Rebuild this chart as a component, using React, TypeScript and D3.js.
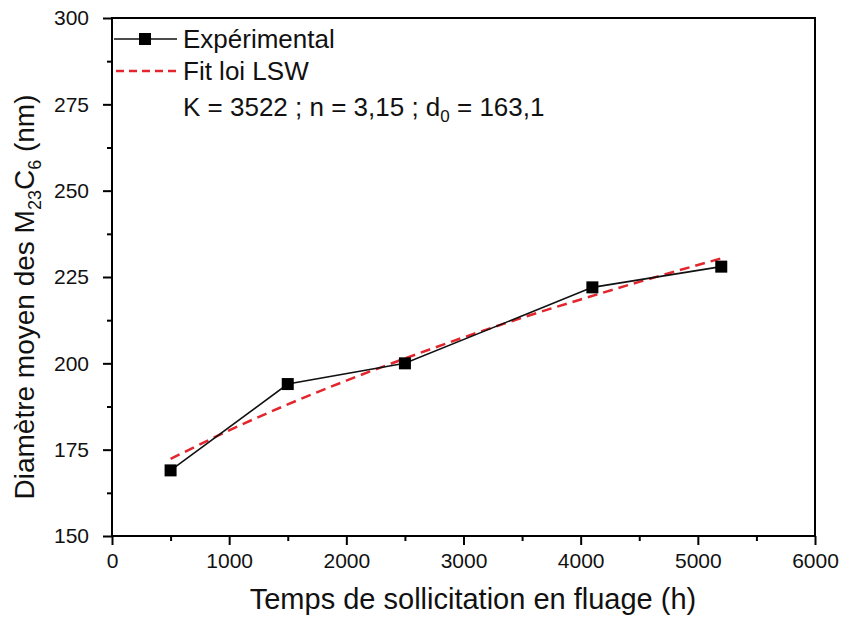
import * as React from 'react';
import * as d3 from 'd3';

const width = 842;
const height = 621;
const margins = { top: 18, right: 27, bottom: 85, left: 112 };

// données
const timeValues = [500, 1500, 2500, 4100, 5200];
const diameterValues = [169, 194, 200, 222, 228];
const fitTimes = [500, 1000, 1500, 2000, 2500, 3000, 3500, 4000, 4500, 5200];
const fitDiameters = [172.3, 180.6, 188.1, 195.0, 201.4, 207.5, 213.2, 218.5, 223.6, 230.4];
const xTicks = [0, 1000, 2000, 3000, 4000, 5000, 6000];
const xMinorTicks = [500, 1500, 2500, 3500, 4500, 5500];
const yTicks = [150, 175, 200, 225, 250, 275, 300];
const yMinorTicks = [162.5, 187.5, 212.5, 237.5, 262.5, 287.5];

const font = '"Liberation Sans", Arial, sans-serif';
const fitColor = '#e3262d';

export default function App() {
    const svgRef = React.useRef<SVGSVGElement | null>(null);

    React.useEffect(() => {
        const svg = d3.select(svgRef.current);
        svg.selectAll('*').remove();

        const plotWidth = width - margins.left - margins.right;
        const plotHeight = height - margins.top - margins.bottom;

        const xScale = d3.scaleLinear().domain([0, 6000]).range([margins.left, margins.left + plotWidth]);
        const yScale = d3.scaleLinear().domain([150, 300]).range([margins.top + plotHeight, margins.top]);

        // cadre
        svg.append('rect')
            .attr('x', margins.left)
            .attr('y', margins.top)
            .attr('width', plotWidth)
            .attr('height', plotHeight)
            .style('fill', 'none')
            .style('stroke', '#000')
            .style('stroke-width', 2);

        const styleAxis = (g: any) => {
            g.select('.domain').remove();
            g.selectAll('line').style('stroke', '#000').style('stroke-width', 2);
            g.selectAll('text')
                .style('font-family', font)
                .style('font-size', '21px')
                .style('fill', '#111');
        };

        svg.append('g').attr('transform', `translate(0,${margins.top + plotHeight})`)
            .call(d3.axisBottom(xScale).tickValues(xTicks).tickSize(9).tickPadding(8).tickFormat(d3.format('d')))
            .call(styleAxis);
        svg.append('g').attr('transform', `translate(0,${margins.top + plotHeight})`)
            .call(d3.axisBottom(xScale).tickValues(xMinorTicks).tickSize(5).tickFormat(() => ''))
            .call(styleAxis);

        svg.append('g').attr('transform', `translate(${margins.left},0)`)
            .call(d3.axisLeft(yScale).tickValues(yTicks).tickSize(9).tickPadding(14).tickFormat(d3.format('d')))
            .call(styleAxis);
        svg.append('g').attr('transform', `translate(${margins.left},0)`)
            .call(d3.axisLeft(yScale).tickValues(yMinorTicks).tickSize(5).tickFormat(() => ''))
            .call(styleAxis);

        // courbe de fit LSW
        const fitLine = d3.line<number>()
            .x((d, i) => xScale(fitTimes[i]))
            .y(d => yScale(d))
            .curve(d3.curveMonotoneX);
        svg.append('path')
            .datum(fitDiameters)
            .attr('d', fitLine)
            .style('fill', 'none')
            .style('stroke', fitColor)
            .style('stroke-width', 2.5)
            .style('stroke-dasharray', '10,6');

        // points expérimentaux
        const expLine = d3.line<number>()
            .x((d, i) => xScale(timeValues[i]))
            .y(d => yScale(d));
        svg.append('path')
            .datum(diameterValues)
            .attr('d', expLine)
            .style('fill', 'none')
            .style('stroke', '#111')
            .style('stroke-width', 1.6);

        const markerSize = 12;
        svg.selectAll('rect.marker')
            .data(diameterValues)
            .enter()
            .append('rect')
            .classed('marker', true)
            .attr('x', (d, i) => xScale(timeValues[i]) - markerSize / 2)
            .attr('y', d => yScale(d) - markerSize / 2)
            .attr('width', markerSize)
            .attr('height', markerSize)
            .style('fill', '#000');

        // légende
        const legend = svg.append('g');
        legend.append('line')
            .attr('x1', 114).attr('x2', 177).attr('y1', 39).attr('y2', 39)
            .style('stroke', '#111').style('stroke-width', 1.6);
        legend.append('rect')
            .attr('x', 145 - markerSize / 2).attr('y', 39 - markerSize / 2)
            .attr('width', markerSize).attr('height', markerSize)
            .style('fill', '#000');
        legend.append('line')
            .attr('x1', 116).attr('x2', 178).attr('y1', 71).attr('y2', 71)
            .style('stroke', fitColor).style('stroke-width', 2.5).style('stroke-dasharray', '8,5');

        const legendText = (y: number) => legend.append('text')
            .attr('x', 183).attr('y', y)
            .style('font-family', font).style('font-size', '26px').style('fill', '#111');
        legendText(48).text('Expérimental');
        legendText(80).text('Fit loi LSW');
        const params = legendText(116);
        params.append('tspan').text('K = 3522 ; n = 3,15 ; d');
        params.append('tspan').attr('dy', 6).style('font-size', '17px').text('0');
        params.append('tspan').attr('dy', -6).text(' = 163,1');

        // titres des axes
        svg.append('text')
            .attr('x', 473).attr('y', 609)
            .attr('text-anchor', 'middle')
            .style('font-family', font).style('font-size', '29px').style('fill', '#111')
            .text('Temps de sollicitation en fluage (h)');

        const yTitle = svg.append('text')
            .attr('transform', 'translate(34,297) rotate(-90)')
            .attr('text-anchor', 'middle')
            .style('font-family', font).style('font-size', '28px').style('fill', '#111');
        yTitle.append('tspan').text('Diamètre moyen des M');
        yTitle.append('tspan').attr('dy', 7).style('font-size', '18px').text('23');
        yTitle.append('tspan').attr('dy', -7).text('C');
        yTitle.append('tspan').attr('dy', 7).style('font-size', '18px').text('6');
        yTitle.append('tspan').attr('dy', -7).text(' (nm)');
    }, []);

    return <svg
        ref={svgRef}
        width={width}
        height={height}
        style={{ position: 'absolute', left: 0, top: 0, background: '#fff' }}>
    </svg>;
}
